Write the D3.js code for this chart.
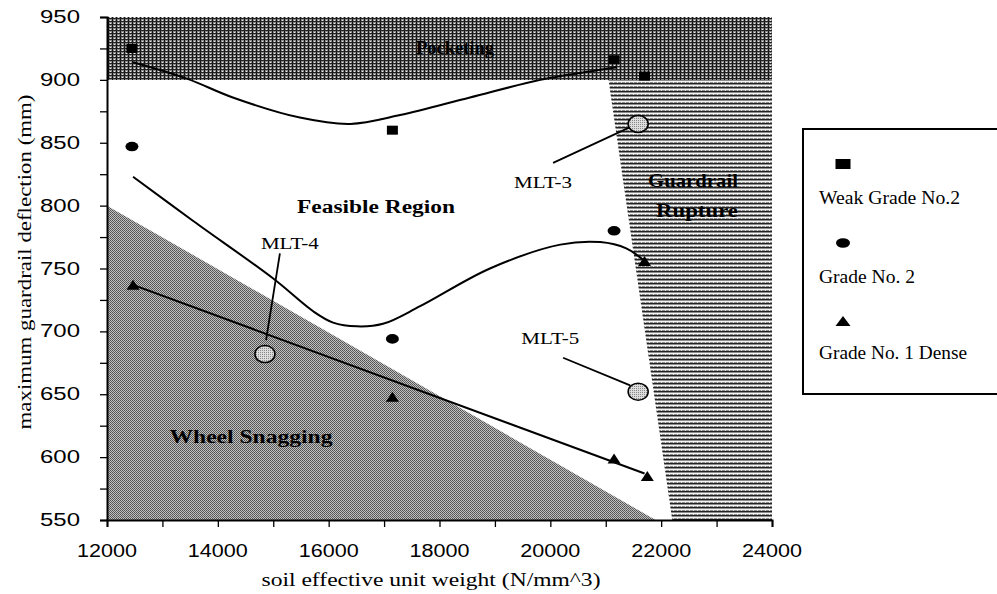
<!DOCTYPE html>
<html><head><meta charset="utf-8">
<script src="https://cdn.jsdelivr.net/npm/d3@7/dist/d3.min.js"></script>
<style>html,body{margin:0;padding:0;background:#fff;}svg{display:block;}</style>
</head><body>
<svg id="c" width="997" height="594"></svg>
<script>
// ---------- data ----------
const xTicks = [12000, 14000, 16000, 18000, 20000, 22000, 24000];
const yTicks = [550, 600, 650, 700, 750, 800, 850, 900, 950];
const seriesNames = ["Weak Grade No.2", "Grade No. 2", "Grade No. 1 Dense"];
const weakX = [12450, 17150, 21150, 21700];
const weakY = [925, 860, 916, 903];
const grade2X = [12450, 17150, 21150];
const grade2Y = [847, 694, 780];
const denseX = [12470, 17150, 21150, 21750];
const denseY = [737, 648, 599, 585];
const arrowX = [21700];
const arrowY = [756];
// trend curves
const topCurveX = [12470, 13440, 14270, 15480, 16390, 17290, 18550, 19820, 20900, 21200];
const topCurveY = [914, 901, 886, 870, 865, 872, 886, 900, 908, 910];
const midCurveX = [12470, 13550, 15000, 15720, 16080, 16510, 16980, 17650, 18910, 20180, 20900, 21370, 21700];
const midCurveY = [823, 788, 742, 716, 707, 704, 706, 720, 750, 769, 771, 766, 756];
const lowLineX = [12470, 21700];
const lowLineY = [737, 587];
// regions
const pocketX = [12000, 24000, 24000, 12000];
const pocketY = [950, 950, 900, 900];
const ruptureX = [21050, 24000, 24000, 22200];
const ruptureY = [900, 900, 550, 550];
const snagX = [12000, 12000, 21900];
const snagY = [800, 550, 550];
// MLT test markers
const mltNames = ["MLT-3", "MLT-4", "MLT-5"];
const mltX = [21585, 14850, 21585];
const mltY = [865, 682, 652];
const mltLabelX = [19870, 15300, 20000];
const mltLabelY = [818, 770, 694];
const mltLeadFromX = [20050, 15120, 20230];
const mltLeadFromY = [834, 762, 679];
const mltLeadToX = [21470, 14870, 21440];
const mltLeadToY = [863, 693, 657];

// ---------- drawing ----------
const svg = d3.select("#c");
const x = d3.scaleLinear().domain([12000, 24000]).range([107, 772]);
const y = d3.scaleLinear().domain([550, 950]).range([520, 17]);
const SERIF = "'Liberation Serif','Times New Roman',serif";
const SANS = "'Liberation Sans',Arial,sans-serif";

const defs = svg.append("defs");
// pocketing crosshatch
const pp = defs.append("pattern").attr("id", "pock").attr("patternUnits", "userSpaceOnUse").attr("width", 4).attr("height", 3);
pp.append("rect").attr("width", 4).attr("height", 3).attr("fill", "#8a8a8a");
pp.append("rect").attr("x", 0).attr("y", 0).attr("width", 1).attr("height", 3).attr("fill", "#111");
pp.append("rect").attr("x", 0).attr("y", 0).attr("width", 4).attr("height", 1).attr("fill", "#222");
pp.append("rect").attr("x", 2).attr("y", 2).attr("width", 1).attr("height", 1).attr("fill", "#eee");
// rupture horizontal lines
const rp = defs.append("pattern").attr("id", "rupt").attr("patternUnits", "userSpaceOnUse").attr("width", 4).attr("height", 4);
rp.append("rect").attr("width", 4).attr("height", 4).attr("fill", "#8c8c8c");
rp.append("rect").attr("y", 1).attr("width", 4).attr("height", 1).attr("fill", "#f4f4f4");
rp.append("rect").attr("y", 3).attr("width", 4).attr("height", 1).attr("fill", "#222");
rp.append("rect").attr("x", 1).attr("y", 2).attr("width", 1).attr("height", 1).attr("fill", "#ddd");
// snagging stipple
const sp = defs.append("pattern").attr("id", "snag").attr("patternUnits", "userSpaceOnUse").attr("width", 2).attr("height", 2);
sp.append("rect").attr("width", 2).attr("height", 2).attr("fill", "#c0c0c0");
sp.append("rect").attr("x", 0).attr("y", 0).attr("width", 1).attr("height", 1).attr("fill", "#505050");
sp.append("rect").attr("x", 1).attr("y", 1).attr("width", 1).attr("height", 1).attr("fill", "#606060");
// MLT fill
const mp = defs.append("pattern").attr("id", "mlt").attr("patternUnits", "userSpaceOnUse").attr("width", 2).attr("height", 2);
mp.append("rect").attr("width", 2).attr("height", 2).attr("fill", "#ddd");
mp.append("rect").attr("width", 1).attr("height", 1).attr("fill", "#888");

const poly = (xs, ys) => xs.map((v, i) => [x(v), y(ys[i])]);
const area = d3.line();
svg.append("path").attr("d", area(poly(snagX, snagY)) + "Z").attr("fill", "url(#snag)");
svg.append("path").attr("d", area(poly(ruptureX, ruptureY)) + "Z").attr("fill", "url(#rupt)");
svg.append("path").attr("d", area(poly(pocketX, pocketY)) + "Z").attr("fill", "url(#pock)");

// axes
const yAxis = d3.axisLeft(y).tickValues(d3.range(550, 951, 25)).tickSize(7).tickFormat("");
const gy = svg.append("g").attr("transform", "translate(107,0)").call(yAxis);
const xAxis = d3.axisBottom(x).tickValues(d3.range(12000, 24001, 1000)).tickSize(7).tickFormat("");
const gx = svg.append("g").attr("transform", "translate(0,520)").call(xAxis);
[gx, gy].forEach(g => {
  g.select(".domain").attr("stroke", "#000").attr("stroke-width", 2);
  g.selectAll(".tick line").attr("stroke", "#000").attr("stroke-width", 1.3);
});

function txt(px, py, s, o) {
  const t = svg.append("text").attr("x", px).attr("y", py).text(s)
    .attr("font-family", o.family || SERIF).attr("font-size", o.size || 16)
    .attr("font-weight", o.weight || "normal").attr("text-anchor", o.anchor || "middle")
    .attr("dominant-baseline", "central").attr("fill", "#000");
  if (o.len) t.attr("textLength", o.len).attr("lengthAdjust", "spacingAndGlyphs");
  if (o.rot) t.attr("transform", `rotate(${o.rot},${px},${py})`);
  return t;
}
yTicks.forEach(v => txt(80, y(v), String(v), { family: SANS, size: 18, anchor: "end", len: 40 }));
xTicks.forEach(v => txt(x(v), 551, String(v), { family: SANS, size: 18, len: 60 }));
txt(431, 579, "soil effective unit weight  (N/mm^3)", { size: 19, len: 339 });
txt(24, 262, "maximum guardrail deflection  (mm)", { size: 19, len: 335, rot: -90 });

// curves
const line = d3.line().curve(d3.curveCatmullRom.alpha(0.5));
const lineStyle = p => p.attr("fill", "none").attr("stroke", "#000").attr("stroke-width", 2);
lineStyle(svg.append("path").attr("d", line(poly(topCurveX, topCurveY))));
lineStyle(svg.append("path").attr("d", line(poly(midCurveX, midCurveY))));
lineStyle(svg.append("path").attr("d", d3.line()(poly(lowLineX, lowLineY))));

// markers
function square(g, cx, cy, w, h) { g.append("rect").attr("x", cx - w / 2).attr("y", cy - h / 2).attr("width", w).attr("height", h).attr("fill", "#000"); }
function dot(g, cx, cy, rx, ry) { g.append("ellipse").attr("cx", cx).attr("cy", cy).attr("rx", rx).attr("ry", ry).attr("fill", "#000"); }
function tri(g, cx, cy, w, h) { g.append("path").attr("d", `M${cx - w / 2},${cy + h / 2}L${cx},${cy - h / 2}L${cx + w / 2},${cy + h / 2}Z`).attr("fill", "#000"); }
const mk = svg.append("g");
weakX.forEach((v, i) => square(mk, x(v), y(weakY[i]), 11, 9));
grade2X.forEach((v, i) => dot(mk, x(v), y(grade2Y[i]), 6.5, 4.8));
denseX.forEach((v, i) => tri(mk, x(v), y(denseY[i]), 13, 10));
arrowX.forEach((v, i) => tri(mk, x(v), y(arrowY[i]), 13, 10));

// MLT markers
mltNames.forEach((n, i) => {
  svg.append("line").attr("x1", x(mltLeadFromX[i])).attr("y1", y(mltLeadFromY[i]))
    .attr("x2", x(mltLeadToX[i])).attr("y2", y(mltLeadToY[i])).attr("stroke", "#000").attr("stroke-width", 1.8);
  svg.append("ellipse").attr("cx", x(mltX[i])).attr("cy", y(mltY[i])).attr("rx", 10).attr("ry", 8.5)
    .attr("fill", "url(#mlt)").attr("stroke", "#000").attr("stroke-width", 1.6);
  txt(x(mltLabelX[i]), y(mltLabelY[i]), n, { size: 16, len: 58 });
});

// region labels
txt(x(18280), y(925), "Pocketing", { size: 18, weight: "bold", len: 78 });
txt(376, 207, "Feasible Region", { size: 18, weight: "bold", len: 158 });
txt(251, 437, "Wheel Snagging", { size: 18, weight: "bold", len: 163 });
txt(693, 181, "Guardrail", { size: 18, weight: "bold", len: 90 });
txt(697, 211, "Rupture", { size: 18, weight: "bold", len: 82 });

// legend
svg.append("rect").attr("x", 803).attr("y", 129).attr("width", 210).attr("height", 265)
  .attr("fill", "#fff").attr("stroke", "#000").attr("stroke-width", 2);
square(svg, 843, 164, 15, 10);
dot(svg, 843, 243, 7, 4.8);
tri(svg, 843, 321, 15, 10);
const legLen = [141, 96, 148];
const legY = [197, 276, 352];
seriesNames.forEach((n, i) => txt(819, legY[i], n, { size: 19, anchor: "start", len: legLen[i] }));
</script>
</body></html>
